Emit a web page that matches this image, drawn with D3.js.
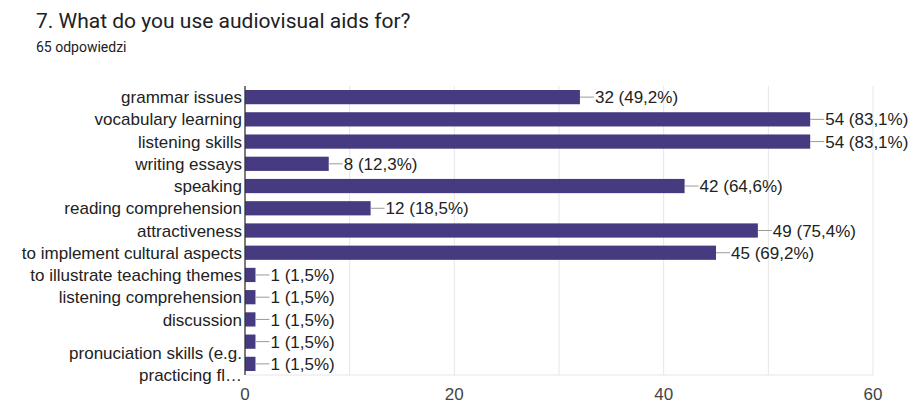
<!DOCTYPE html>
<html>
<head>
<meta charset="utf-8">
<script src="https://cdn.jsdelivr.net/npm/d3@7"></script>
<style>
  body { margin: 0; background: #fff; }
  svg { display: block; }
</style>
</head>
<body>
<div id="chart"></div>
<script>
var title = "7. What do you use audiovisual aids for?";
var subtitle = "65 odpowiedzi";

var categories = [
    "grammar issues",
    "vocabulary learning",
    "listening skills",
    "writing essays",
    "speaking",
    "reading comprehension",
    "attractiveness",
    "to implement cultural aspects",
    "to illustrate teaching themes",
    "listening comprehension",
    "discussion",
    "",
    "pronuciation skills (e.g.|practicing fl\u2026"
];
var counts = [32, 54, 54, 8, 42, 12, 49, 45, 1, 1, 1, 1, 1];
var percents = ["49,2", "83,1", "83,1", "12,3", "64,6", "18,5", "75,4", "69,2", "1,5", "1,5", "1,5", "1,5", "1,5"];
var xTicks = [0, 20, 40, 60];
var xGrid = [10, 20, 30, 40, 50, 60];

var width = 915, height = 404;
var margin = { left: 245, right: 42, top: 86, bottom: 29 };
var font = "'Liberation Sans', Arial, sans-serif";

var svg = d3.select("#chart")
    .append("svg")
    .attr("width", width)
    .attr("height", height);

svg.append("text")
    .attr("x", 36)
    .attr("y", 28)
    .style("font-family", "Roboto, Arial, sans-serif")
    .style("font-size", "21px")
    .style("fill", "#202124")
    .text(title);

svg.append("text")
    .attr("x", 36)
    .attr("y", 52)
    .style("font-family", "Roboto, Arial, sans-serif")
    .style("font-size", "14px")
    .style("fill", "#202124")
    .text(subtitle);

var x = d3.scaleLinear()
    .domain([0, 60])
    .range([margin.left, width - margin.right]);

var y = d3.scaleBand()
    .domain(d3.range(categories.length))
    .range([margin.top, height - margin.bottom])
    .paddingInner(0.36)
    .paddingOuter(0.18);

// grid
svg.append("g")
    .selectAll("line")
    .data(xGrid)
    .enter().append("line")
    .attr("x1", d => x(d)).attr("x2", d => x(d))
    .attr("y1", margin.top).attr("y2", height - margin.bottom)
    .style("stroke", "#e6e6e6");

svg.append("line")
    .attr("x1", x(0)).attr("x2", x(60))
    .attr("y1", height - margin.bottom).attr("y2", height - margin.bottom)
    .style("stroke", "#e6e6e6");

// bars
var rows = svg.append("g")
    .selectAll(".row")
    .data(counts)
    .enter().append("g")
    .attr("class", "row");

rows.append("rect")
    .attr("x", x(0))
    .attr("y", (d, i) => y(i))
    .attr("width", d => x(d) - x(0))
    .attr("height", y.bandwidth())
    .style("fill", "#463a80");

rows.append("line")
    .attr("x1", d => x(d))
    .attr("x2", d => x(d) + 14)
    .attr("y1", (d, i) => y(i) + y.bandwidth() / 2)
    .attr("y2", (d, i) => y(i) + y.bandwidth() / 2)
    .style("stroke", "#9a9a9a");

rows.append("text")
    .attr("x", d => x(d) + 15)
    .attr("y", (d, i) => y(i) + y.bandwidth() / 2)
    .attr("dy", "0.36em")
    .style("font-family", font)
    .style("font-size", "17px")
    .style("fill", "#222")
    .text((d, i) => d + " (" + percents[i] + "%)");

// category labels
var labels = svg.append("g")
    .selectAll("text")
    .data(categories)
    .enter().append("text")
    .attr("x", margin.left - 3)
    .attr("y", (d, i) => y(i) + y.bandwidth() / 2)
    .style("text-anchor", "end")
    .style("font-family", font)
    .style("font-size", "17px")
    .style("fill", "#222");

labels.each(function (d) {
    var parts = d.split("|");
    var t = d3.select(this);
    parts.forEach(function (p, k) {
        t.append("tspan")
            .attr("x", margin.left - 3)
            .attr("dy", k === 0 ? (0.36 - (parts.length - 1) * 0.65) + "em" : "1.3em")
            .text(p);
    });
});

// axis line
svg.append("line")
    .attr("x1", x(0)).attr("x2", x(0))
    .attr("y1", margin.top).attr("y2", height - margin.bottom)
    .style("stroke", "#333")
    .style("stroke-width", 1.3);

// tick labels
svg.append("g")
    .selectAll("text")
    .data(xTicks)
    .enter().append("text")
    .attr("x", d => x(d))
    .attr("y", 400)
    .style("text-anchor", "middle")
    .style("font-family", font)
    .style("font-size", "17px")
    .style("fill", "#444")
    .text(d => d);
</script>
</body>
</html>
